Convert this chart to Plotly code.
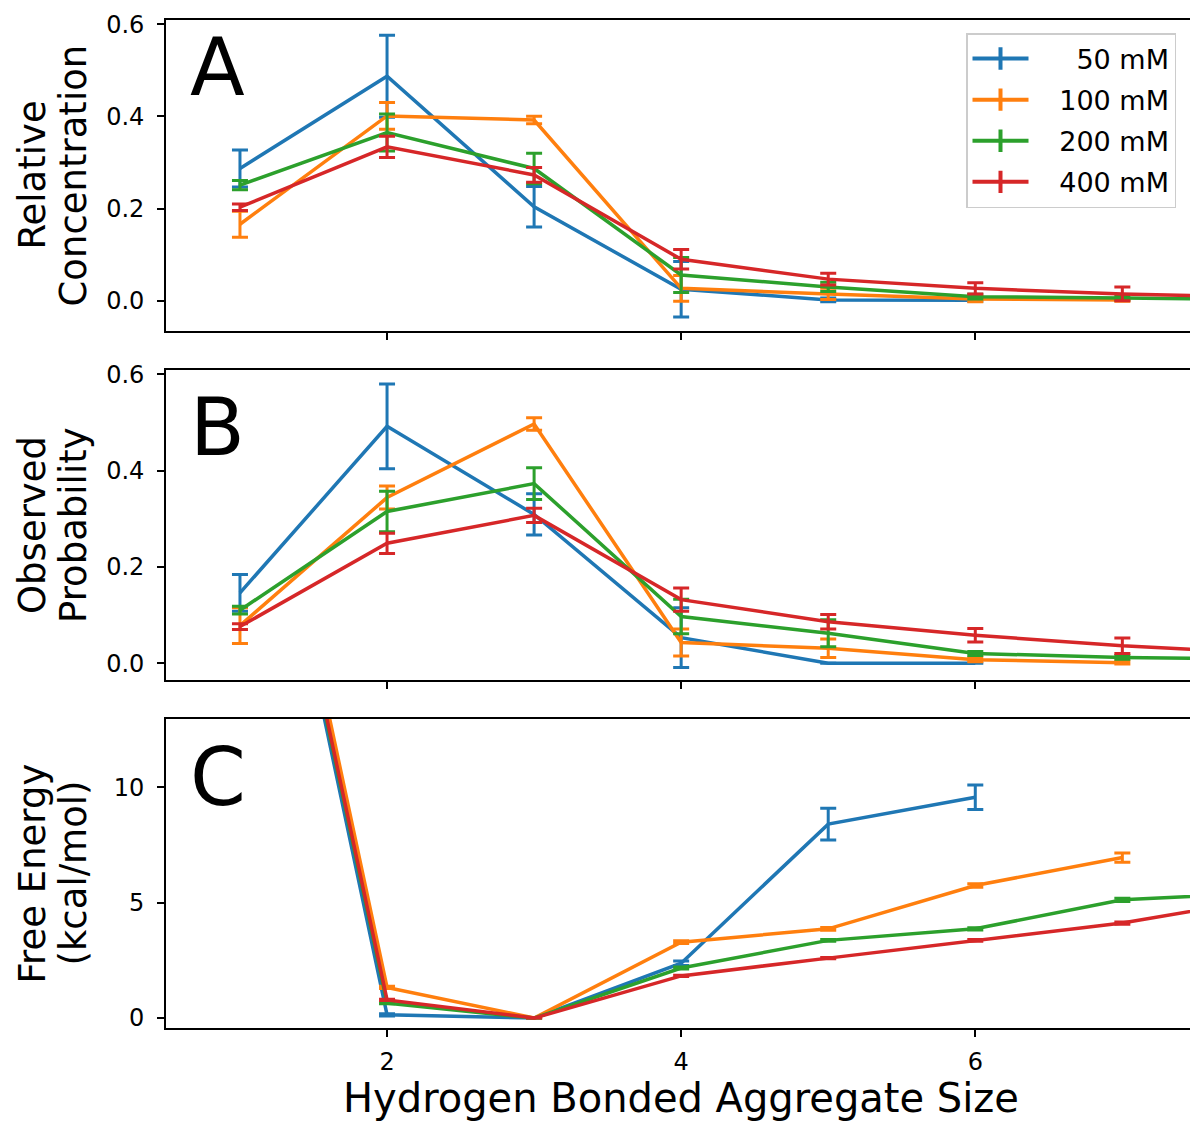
import plotly.graph_objects as go

# ---------------- data ----------------
sizes = [1, 2, 3, 4, 5, 6, 7, 8]
labels = ["50 mM", "100 mM", "200 mM", "400 mM"]
colors = ["#1f77b4", "#ff7f0e", "#2ca02c", "#d62728"]

# Panel A: relative concentration
conc_50 = [0.287, 0.487, 0.204, 0.025, 0.002, 0.001]
conc_50_err = [0.040, 0.089, 0.044, 0.060, 0.004, 0.002]
conc_100 = [0.166, 0.401, 0.392, 0.027, 0.015, 0.004, 0.002]
conc_100_err = [0.028, 0.029, 0.008, 0.028, 0.012, 0.006, 0.003]
conc_200 = [0.251, 0.365, 0.287, 0.056, 0.030, 0.009, 0.006, 0.003]
conc_200_err = [0.010, 0.040, 0.033, 0.038, 0.010, 0.005, 0.004, 0.003]
conc_400 = [0.203, 0.334, 0.273, 0.090, 0.047, 0.027, 0.015, 0.007]
conc_400_err = [0.007, 0.023, 0.016, 0.021, 0.013, 0.012, 0.015, 0.010]

# Panel B: observed probability
prob_50 = [0.146, 0.492, 0.309, 0.053, 0.000, 0.000]
prob_50_err = [0.038, 0.088, 0.043, 0.062, 0.000, 0.000]
prob_100 = [0.078, 0.344, 0.497, 0.043, 0.031, 0.007, 0.001]
prob_100_err = [0.037, 0.024, 0.013, 0.028, 0.019, 0.004, 0.003]
prob_200 = [0.110, 0.315, 0.373, 0.097, 0.062, 0.020, 0.012, 0.008]
prob_200_err = [0.008, 0.042, 0.033, 0.036, 0.028, 0.004, 0.004, 0.004]
prob_400 = [0.076, 0.249, 0.307, 0.132, 0.086, 0.058, 0.036, 0.021]
prob_400_err = [0.006, 0.021, 0.015, 0.024, 0.015, 0.014, 0.016, 0.012]

# Panel C: free energy (kcal/mol)
fe_50 = [30.3, 0.14, 0.0, 2.38, 8.41, 9.58]
fe_50_err = [0.5, 0.05, 0.0, 0.10, 0.69, 0.53]
fe_100 = [31.2, 1.33, 0.0, 3.29, 3.87, 5.75, 6.96]
fe_100_err = [0.5, 0.05, 0.0, 0.06, 0.06, 0.08, 0.20]
fe_200 = [30.5, 0.65, 0.0, 2.17, 3.37, 3.87, 5.13, 5.43]
fe_200_err = [0.5, 0.03, 0.0, 0.04, 0.04, 0.05, 0.07, 0.08]
fe_400 = [30.6, 0.79, 0.0, 1.83, 2.60, 3.37, 4.12, 5.21]
fe_400_err = [0.5, 0.03, 0.0, 0.03, 0.03, 0.04, 0.05, 0.06]

panels = [
    ("A", ["Relative", "Concentration"], [conc_50, conc_100, conc_200, conc_400],
     [conc_50_err, conc_100_err, conc_200_err, conc_400_err], [-0.0655, 0.609], [0, 0.2, 0.4, 0.6], ".1f"),
    ("B", ["Observed", "Probability"], [prob_50, prob_100, prob_200, prob_400],
     [prob_50_err, prob_100_err, prob_200_err, prob_400_err], [-0.035, 0.609], [0, 0.2, 0.4, 0.6], ".1f"),
    ("C", ["Free Energy", "(kcal/mol)"], [fe_50, fe_100, fe_200, fe_400],
     [fe_50_err, fe_100_err, fe_200_err, fe_400_err], [-0.43, 12.97], [0, 5, 10], "d"),
]

W, H = 1190, 1125
L = 166
pix = [(20, 331), (370, 680), (719, 1028)]
FONT = "DejaVu Sans"

fig = go.Figure()
layout_axes = {}
annotations = []

for i, (letter, ytitle, series, errs, yr, ytv, yfmt) in enumerate(panels):
    n = i + 1
    xa = "x" if n == 1 else f"x{n}"
    ya = "y" if n == 1 else f"y{n}"
    for k in range(4):
        vals = series[k]
        fig.add_trace(go.Scatter(
            x=sizes[:len(vals)], y=vals, mode="lines",
            line=dict(color=colors[k], width=3.5),
            error_y=dict(type="data", array=errs[k], visible=True,
                         color=colors[k], thickness=3.0, width=8),
            xaxis=xa, yaxis=ya, showlegend=False, hoverinfo="skip",
        ))
    top, bot = pix[i]
    dom = [1 - bot / H, 1 - top / H]
    xkey = "xaxis" if n == 1 else f"xaxis{n}"
    ykey = "yaxis" if n == 1 else f"yaxis{n}"
    layout_axes[xkey] = dict(
        domain=[0, 1], range=[0.497, 7.46], anchor=ya, automargin=False,
        tickvals=[2, 4, 6], showticklabels=(n == 3),
        ticks="outside", ticklen=7, tickwidth=1.7, tickcolor="black",
        showline=True, linecolor="black", linewidth=1.7, mirror=True,
        showgrid=False, zeroline=False,
        tickfont=dict(family=FONT, size=24, color="black"),
        ticklabelstandoff=4,
    )
    if n != 1:
        layout_axes[xkey]["matches"] = "x"
    layout_axes[ykey] = dict(
        domain=dom, range=yr, anchor=xa, automargin=False,
        tickvals=ytv, tickformat=yfmt,
        ticks="outside", ticklen=7, tickwidth=1.7, tickcolor="black",
        showline=True, linecolor="black", linewidth=1.7, mirror=False,
        showgrid=False, zeroline=False,
        tickfont=dict(family=FONT, size=24, color="black"),
        ticklabelstandoff=8,
    )
    # panel letter
    letter_y = {0: 68, 1: 428, 2: 777}[i]
    annotations.append(dict(
        text=letter, xref="paper", yref="paper",
        x=(188 - L) / (W - L), y=1 - letter_y / H,
        xanchor="left", yanchor="middle", showarrow=False,
        font=dict(family=FONT, size=80, color="black"),
    ))
    # y title, two lines placed separately
    for j, line_x in enumerate([32, 73]):
        annotations.append(dict(
            text=ytitle[j], xref="paper", yref="paper",
            x=(line_x - L) / (W - L), y=1 - ((top + bot) / 2) / H,
            xanchor="center", yanchor="middle", textangle=-90, showarrow=False,
            font=dict(family=FONT, size=37, color="black"),
        ))

# x title
annotations.append(dict(
    text="Hydrogen Bonded Aggregate Size", xref="paper", yref="paper",
    x=(681 - L) / (W - L), y=1 - 1098 / H, xanchor="center", yanchor="middle",
    showarrow=False, font=dict(family=FONT, size=40, color="black"),
))

# legend-only entries (error-bar style glyph)
pads = ["\u00a0" * 5, "\u00a0" * 3, "\u00a0" * 3, "\u00a0" * 3]
for k in range(4):
    fig.add_trace(go.Scatter(
        x=[None], y=[None], mode="lines+markers", name=pads[k] + labels[k],
        line=dict(color=colors[k], width=4),
        marker=dict(symbol="line-ns", size=22, line=dict(color=colors[k], width=4)),
        legendgroup=f"g{k}", showlegend=True, xaxis="x", yaxis="y",
    ))

fig.update_layout(
    width=W, height=H,
    margin=dict(l=L, r=0, t=0, b=0),
    paper_bgcolor="white", plot_bgcolor="white",
    showlegend=True,
    legend=dict(
        x=(966 - L) / (W - L), y=1 - 33 / H, xanchor="left", yanchor="top",
        bgcolor="white", bordercolor="#cccccc", borderwidth=1.5,
        font=dict(family=FONT, size=27, color="black"),
        tracegroupgap=3, itemwidth=56,
    ),
    annotations=annotations,
    **layout_axes,
)

fig.write_html("out.html")
